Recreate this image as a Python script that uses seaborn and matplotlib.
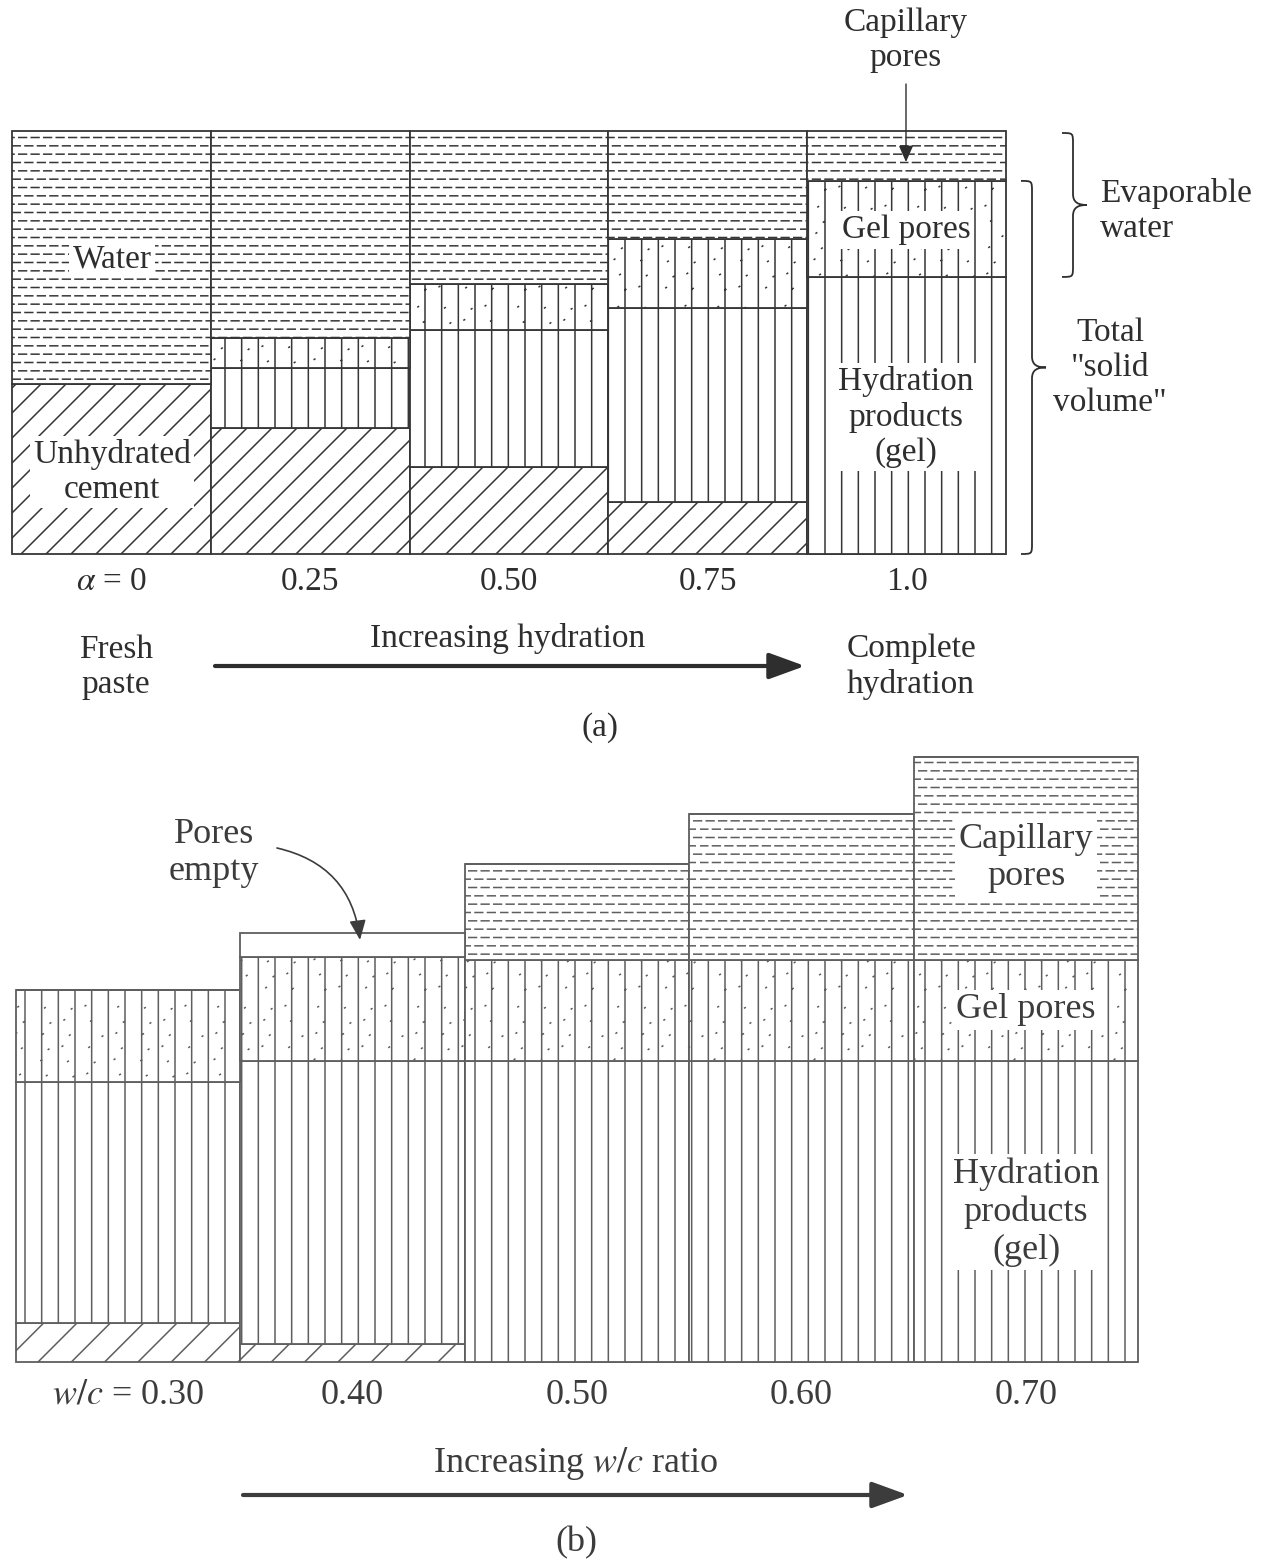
import warnings

import numpy as np
import matplotlib
matplotlib.use("Agg")
import matplotlib.pyplot as plt
import matplotlib.hatch as mhatch
from matplotlib.path import Path
from matplotlib.patches import PathPatch, FancyArrowPatch
import seaborn as sns

warnings.filterwarnings("ignore", message=".*hatch must consist.*")

# ---------------------------------------------------------------------------
# (a) Volume fractions of a cement paste at increasing degree of hydration
stages = ["$\\alpha$ = 0", "0.25", "0.50", "0.75", "1.0"]
unhydrated_a = [0.402, 0.298, 0.206, 0.123, 0.0]
products_a = [0.0, 0.142, 0.324, 0.459, 0.655]
gel_pores_a = [0.0, 0.071, 0.109, 0.163, 0.227]
water_a = [0.598, 0.489, 0.362, 0.255, 0.118]

# (b) Volumes (cm^3 per g of cement) of fully hydrated pastes vs w/c ratio
wc_ratios = ["$w/c$ = 0.30", "0.40", "0.50", "0.60", "0.70"]
unhydrated_b = [0.065, 0.030, 0.0, 0.0, 0.0]
products_b = [0.405, 0.475, 0.505, 0.505, 0.505]
gel_pores_b = [0.155, 0.175, 0.170, 0.170, 0.170]
capillary_b = [0.0, 0.0, 0.160, 0.245, 0.340]
empty_b = [0.0, 0.040, 0.0, 0.0, 0.0]


# ---------------------------------------------------------------------------
# Extra fill textures:
#   'w' = staggered dashes (water), 's' = stipple (gel pores),
#   'd' = tighter diagonal ruling (unhydrated cement)
class WaterDashes(mhatch.HatchPatternBase):
    def __init__(self, hatch, density):
        self.segments = []
        if hatch.count("w"):
            rows, per_row, frac = 12, 8, 0.62
            p = 1.0 / per_row
            for i in range(rows):
                y = (i + 0.5) / rows
                shift = (i % 2) * p / 2
                for k in range(per_row):
                    x0 = k * p + shift
                    x1 = x0 + frac * p
                    if x1 <= 1.0:
                        self.segments.append(((x0, y), (x1, y)))
                    else:
                        self.segments.append(((x0, y), (1.0, y)))
                        self.segments.append(((0.0, y), (x1 - 1.0, y)))
        self.num_vertices = 2 * len(self.segments)

    def set_vertices_and_codes(self, vertices, codes):
        for j, (a, b) in enumerate(self.segments):
            vertices[2 * j] = a
            vertices[2 * j + 1] = b
        codes[0::2] = Path.MOVETO
        codes[1::2] = Path.LINETO


class Stipple(mhatch.HatchPatternBase):
    def __init__(self, hatch, density):
        self.points = []
        if hatch.count("s"):
            for i in range(28):
                x = 0.02 + 0.94 * ((0.13 + i * 0.7548777) % 1.0)
                y = 0.02 + 0.94 * ((0.41 + i * 0.5698403) % 1.0)
                self.points.append((x, y))
        self.num_vertices = 2 * len(self.points)

    def set_vertices_and_codes(self, vertices, codes):
        for j, (x, y) in enumerate(self.points):
            vertices[2 * j] = (x, y)
            vertices[2 * j + 1] = (x + 0.006, y + 0.004)
        codes[0::2] = Path.MOVETO
        codes[1::2] = Path.LINETO


class DenseDiagonal(mhatch.NorthEastHatch):
    def __init__(self, hatch, density):
        self.num_lines = 8 if hatch.count("d") else 0
        self.num_vertices = (self.num_lines + 1) * 2 if self.num_lines else 0


mhatch._hatch_types.extend([WaterDashes, Stipple, DenseDiagonal])

# ---------------------------------------------------------------------------
sns.set_theme(style="white")
plt.rcParams["font.family"] = ["Liberation Serif", "DejaVu Serif"]
plt.rcParams["mathtext.fontset"] = "stix"
plt.rcParams["hatch.linewidth"] = 1.1

W, H = 1276, 1563
fig = plt.figure(figsize=(W / 100, H / 100), dpi=100)
fig.patch.set_facecolor("white")

INK_A, LINE_A = "#2e2e2e", "#363636"
INK_B, LINE_B = "#3c3c3c", "#5e5e5e"


def stack(ax, cats, layers, edge, lw):
    base = np.zeros(len(cats))
    for values, hatch in layers:
        sns.barplot(x=cats, y=values, order=cats, bottom=base.copy(), width=1.0,
                    color="white", saturation=1, edgecolor=edge, linewidth=lw,
                    hatch=hatch, errorbar=None, clip_on=False, ax=ax)
        base += np.asarray(values, float)


def style_axes(ax, top, size, ink, pad):
    ax.set_xlim(-0.5, 4.5)
    ax.set_ylim(0, top)
    ax.set(xlabel="", ylabel="")
    ax.set_yticks([])
    sns.despine(ax=ax, left=True, bottom=True)
    ax.tick_params(axis="x", length=0, pad=pad, labelsize=size, labelcolor=ink)


def fx(x):
    return x / W


def fy(y):
    return 1 - y / H


def put(x, y, s, size, ink, box=False, ha="center"):
    kw = {}
    if box:
        kw["bbox"] = dict(boxstyle="square,pad=0.1", fc="white", ec="none")
    fig.text(fx(x), fy(y), s, ha=ha, va="center", fontsize=size, color=ink,
             linespacing=1.19, **kw)


def arrow(p0, p1, lw, ink, head="-|>,head_length=1.1,head_width=0.4", scale=20, rad=0.0):
    fig.add_artist(FancyArrowPatch((fx(p0[0]), fy(p0[1])), (fx(p1[0]), fy(p1[1])),
                                   transform=fig.transFigure, arrowstyle=head,
                                   mutation_scale=scale, lw=lw, color=ink,
                                   shrinkA=0, shrinkB=0,
                                   connectionstyle=f"arc3,rad={rad}"))


def data_y(ax, v):
    """Pixel row (from the top) of data value v on ax."""
    return H - ax.transData.transform((0, v))[1]


def brace(x_end, x_spine, x_tip, y_top, y_bot, ink, r=11):
    ym = (y_top + y_bot) / 2
    pts = [
        (x_end, y_top),
        (x_spine, y_top), (x_spine, y_top), (x_spine, y_top + r),
        (x_spine, ym - r),
        (x_spine, ym - 0.2 * r), (x_tip - 0.6 * (x_tip - x_spine), ym), (x_tip, ym),
        (x_tip - 0.6 * (x_tip - x_spine), ym), (x_spine, ym + 0.2 * r), (x_spine, ym + r),
        (x_spine, y_bot - r),
        (x_spine, y_bot), (x_spine, y_bot), (x_end, y_bot),
    ]
    codes = ([Path.MOVETO] + [Path.CURVE4] * 3 + [Path.LINETO] + [Path.CURVE4] * 6
             + [Path.LINETO] + [Path.CURVE4] * 3)
    verts = [(fx(x), fy(y)) for x, y in pts]
    fig.add_artist(PathPatch(Path(verts, codes), transform=fig.transFigure,
                             fill=False, ec=ink, lw=1.3))


# ---------------------------------------------------------------------------
# (a) progress of hydration
ax_a = fig.add_axes([fx(12), fy(554), (1006 - 12) / W, (554 - 131) / H])
stack(ax_a, stages,
      [(unhydrated_a, "d"), (products_a, "|"), (gel_pores_a, "|s"), (water_a, "w")],
      LINE_A, 1.3)
style_axes(ax_a, 1.0, 24, INK_A, 9)

SA = 24
put(112, 259, "Water", SA, INK_A, box=True)
put(112, 472, "Unhydrated\ncement", SA, INK_A, box=True)
put(906, 230, "Gel pores", SA, INK_A, box=True)
put(906, 417, "Hydration\nproducts\n(gel)", SA, INK_A, box=True)
put(906, 40, "Capillary\npores", SA, INK_A)
arrow((906, 84), (906, 162), 1.0, INK_A, head="-|>,head_length=0.5,head_width=0.22")

solid_full = unhydrated_a[-1] + products_a[-1]
brace(1062, 1073, 1087, data_y(ax_a, 1.0) + 2, data_y(ax_a, solid_full), INK_A)
put(1100, 211, "Evaporable\nwater", SA, INK_A, ha="left")
brace(1021, 1032, 1046, data_y(ax_a, solid_full + gel_pores_a[-1]), data_y(ax_a, 0.0), INK_A)
put(1110, 368, 'Total\n"solid\nvolume"', SA, INK_A)

put(116, 667, "Fresh\npaste", SA, INK_A)
put(508, 638, "Increasing hydration", SA, INK_A)
put(911, 667, "Complete\nhydration", SA, INK_A)
arrow((215, 666), (805, 666), 3.0, INK_A)
put(600, 728, "(a)", SA, INK_A)

# ---------------------------------------------------------------------------
# (b) effect of w/c ratio at complete hydration
ax_b = fig.add_axes([fx(16), fy(1362), (1138 - 16) / W, (1362 - 756) / H])
stack(ax_b, wc_ratios,
      [(unhydrated_b, "/"), (products_b, "|"), (gel_pores_b, "|s"),
       (capillary_b, "w"), (empty_b, "")],
      LINE_B, 1.3)
style_axes(ax_b, 1.017, 26, INK_B, 12)

SB = 26
put(214, 853, "Pores\nempty", SB, INK_B)
arrow((277, 848), (360, 940), 1.2, INK_B, head="-|>,head_length=0.6,head_width=0.25",
      rad=-0.35)
put(1026, 858, "Capillary\npores", SB, INK_B, box=True)
put(1026, 1010, "Gel pores", SB, INK_B, box=True)
put(1026, 1212, "Hydration\nproducts\n(gel)", SB, INK_B, box=True)
put(576, 1464, "Increasing $w/c$ ratio", SB, INK_B)
arrow((243, 1495), (908, 1495), 3.0, INK_B)
put(576, 1543, "(b)", SB, INK_B)

fig.savefig("out.png", dpi=100, facecolor="white")
